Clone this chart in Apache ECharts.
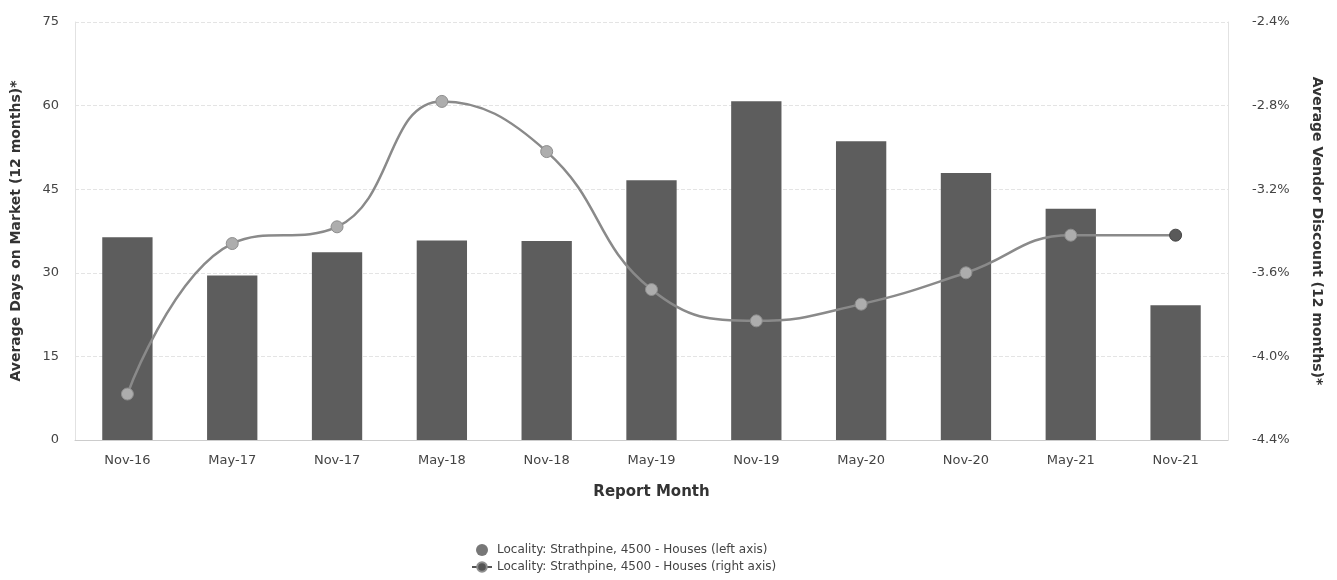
<!DOCTYPE html>
<html>
<head>
<meta charset="utf-8">
<title>Days on market / vendor discount</title>
<style>
html, body { margin: 0; padding: 0; background: #fff; }
#chart { width: 1337px; height: 580px; }
</style>
<script src="https://cdn.jsdelivr.net/npm/echarts@6/dist/echarts.min.js"></script>
</head>
<body>
<div id="chart"></div>
<script>
// data
var months = ['Nov-16', 'May-17', 'Nov-17', 'May-18', 'Nov-18', 'May-19', 'Nov-19', 'May-20', 'Nov-20', 'May-21', 'Nov-21'];
var daysOnMarket = [36.4, 29.5, 33.7, 35.8, 35.7, 46.6, 60.8, 53.6, 47.9, 41.5, 24.2];
var vendorDiscount = [-4.18, -3.46, -3.38, -2.78, -3.02, -3.68, -3.83, -3.75, -3.60, -3.42, -3.42];
var seriesNames = ['Locality: Strathpine, 4500 - Houses (left axis)', 'Locality: Strathpine, 4500 - Houses (right axis)'];

var font = 'DejaVu Sans';
var chart = echarts.init(document.getElementById('chart'));

// last point is drawn darker in the original
var linePoints = vendorDiscount.map(function (v, i) {
  if (i === vendorDiscount.length - 1) {
    return { value: v, itemStyle: { color: '#5a5a5a', borderColor: '#444' } };
  }
  return v;
});

var option = {
  backgroundColor: '#fff',
  textStyle: { fontFamily: font },
  animation: false,
  grid: { left: 75, right: 109, top: 22, bottom: 140 },
  legend: {
    orient: 'vertical',
    left: 466,
    top: 539,
    itemGap: 5,
    itemWidth: 20,
    itemHeight: 12,
    textStyle: { fontFamily: font, fontSize: 12, color: '#444' },
    data: [
      { name: seriesNames[0], icon: 'circle', itemStyle: { color: '#777' } },
      { name: seriesNames[1], itemStyle: { color: '#555' }, lineStyle: { color: '#555' } }
    ]
  },
  xAxis: {
    type: 'category',
    data: months,
    name: 'Report Month',
    nameLocation: 'middle',
    nameGap: 45,
    nameTextStyle: { fontFamily: font, fontSize: 15, fontWeight: 'bold', color: '#333' },
    axisLine: { lineStyle: { color: '#ccc' } },
    axisTick: { show: false },
    axisLabel: { fontFamily: font, fontSize: 13, color: '#444', margin: 14 }
  },
  yAxis: [
    {
      type: 'value',
      min: 0, max: 75, interval: 15,
      name: 'Average Days on Market (12 months)*',
      nameLocation: 'middle',
      nameGap: 52,
      nameTextStyle: { fontFamily: font, fontSize: 14, fontWeight: 'bold', color: '#333' },
      axisLine: { show: true, lineStyle: { color: '#e2e2e2' } },
      axisTick: { show: false },
      axisLabel: { fontFamily: font, fontSize: 13, color: '#444', margin: 16 },
      splitLine: { lineStyle: { color: '#e4e4e4', type: 'dashed' } }
    },
    {
      type: 'value',
      min: -4.4, max: -2.4, interval: 0.4,
      name: 'Average Vendor Discount (12 months)*',
      nameLocation: 'middle',
      nameRotate: -90,
      nameGap: 82,
      nameTextStyle: { fontFamily: font, fontSize: 14, fontWeight: 'bold', color: '#333' },
      axisLine: { show: true, lineStyle: { color: '#e2e2e2' } },
      axisTick: { show: false },
      axisLabel: {
        fontFamily: font, fontSize: 13, color: '#444', margin: 24,
        formatter: function (v) { return v.toFixed(1) + '%'; }
      },
      splitLine: { show: false }
    }
  ],
  series: [
    {
      name: seriesNames[0],
      type: 'bar',
      yAxisIndex: 0,
      data: daysOnMarket,
      barWidth: '48%',
      itemStyle: { color: '#5d5d5d' }
    },
    {
      name: seriesNames[1],
      type: 'line',
      yAxisIndex: 1,
      data: linePoints,
      smooth: 0.45,
      symbol: 'circle',
      symbolSize: 12,
      lineStyle: { color: '#8a8a8a', width: 2.5 },
      itemStyle: { color: '#adadad', borderColor: '#8e8e8e', borderWidth: 1 },
      z: 5
    }
  ]
};

chart.setOption(option);
</script>
</body>
</html>
